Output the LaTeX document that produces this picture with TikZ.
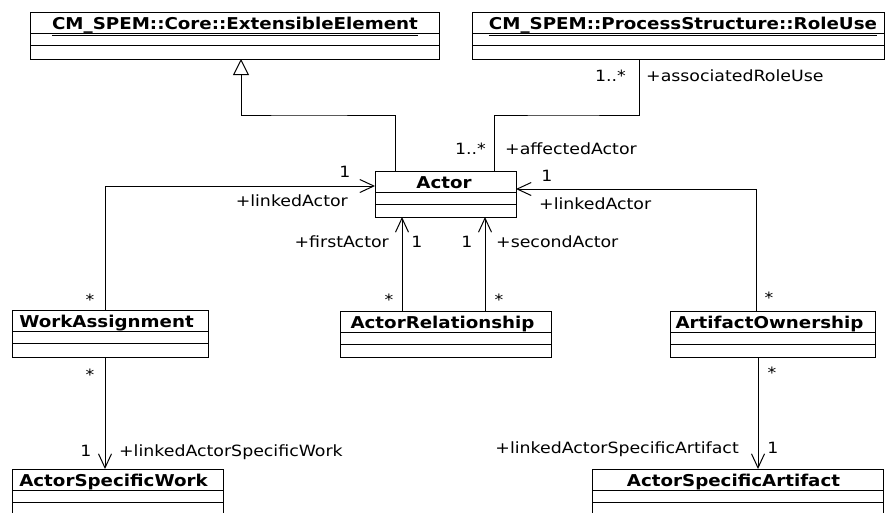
\documentclass[tikz,border=0pt]{standalone}
\usepackage{fontspec}
\setmainfont{DejaVu Sans}[FakeStretch=1.12]
\usetikzlibrary{arrows.meta,calc}
\tikzset{
  cls/.style={draw, line width=1pt, rectangle, inner sep=0pt, outer sep=0pt, anchor=north west},
  sep/.style={line width=1pt},
  ttl/.style={inner sep=0pt, anchor=base, font=\fontsize{16.3}{18}\selectfont\bfseries},
  lbl/.style={inner sep=0pt, text height=11.5pt, text depth=0pt, font=\fontsize{15.5}{18}\selectfont},
  star/.style={inner sep=0pt, font=\fontsize{15.5}{18}\selectfont},
  conn/.style={line width=1pt},
  assoc/.style={conn, -{Straight Barb[length=14pt,width=13pt,line width=1pt]}},
  gen/.style={conn, -{Triangle[open,length=16pt,width=16pt,line width=1pt]}},
}
\newcommand\umlcls[7]{% name, x1, y1, x2, y2, title x, title
  \node[cls, minimum width={#4pt-#2pt}, minimum height={#5pt-#3pt}] (#1) at (#2,#3) {};
  \draw[sep] ([yshift=-21.5pt]#1.north west) -- ([yshift=-21.5pt]#1.north east);
  \draw[sep] ([yshift=-33pt]#1.north west) -- ([yshift=-33pt]#1.north east);
  \node[ttl] (#1-t) at (#6,#3+17.5) {#7};
}
\begin{document}
\begin{tikzpicture}[x=1pt,y=-1pt]
\clip (0,0) rectangle (885,512);
\fill[white] (0,0) rectangle (885,512);

\umlcls{ext}{30}{12}{439}{59}{235}{\underline{CM\_SPEM::Core::ExtensibleElement}}
\umlcls{role}{472}{12}{884}{59}{683}{\underline{CM\_SPEM::ProcessStructure::RoleUse}}
\umlcls{actor}{375}{171}{516}{217}{444}{Actor}
\umlcls{wa}{12}{310}{208}{357}{106.5}{WorkAssignment}
\umlcls{ar}{340}{311}{551}{357}{442.5}{ActorRelationship}
\umlcls{ao}{670}{311}{875}{357}{769.5}{ArtifactOwnership}
\umlcls{asw}{12}{469}{223}{530}{113.5}{ActorSpecificWork}
\umlcls{asa}{592}{469}{883}{530}{733.5}{ActorSpecificArtifact}

% bends
\coordinate (gbend) at (300,115);
\coordinate (rbend) at (560,115);

% generalization
\draw[gen] ([xshift=20pt]actor.north west) |- (gbend) -| ([xshift=211pt]ext.south west);
% association with RoleUse
\draw[conn] ([xshift=119pt]actor.north west) |- (rbend) -| ([xshift=167pt]role.south west);
% linkedActor (WorkAssignment)
\draw[assoc] ([xshift=93pt]wa.north west) |- ([yshift=-15pt]actor.north west);
% linkedActor (ArtifactOwnership)
\draw[assoc] ([xshift=86pt]ao.north west) |- ([yshift=-18pt]actor.north east);
% firstActor / secondActor
\draw[assoc] ([xshift=62pt]ar.north west) -- ([xshift=27pt]actor.south west);
\draw[assoc] ([xshift=145pt]ar.north west) -- ([xshift=110pt]actor.south west);
% linkedActorSpecificWork
\draw[assoc] ([xshift=93pt]wa.south west) -- ([xshift=93pt]asw.north west);
% linkedActorSpecificArtifact
\draw[assoc] ([xshift=88pt]ao.south west) -- ([xshift=166pt]asa.north west);

% labels
\node[lbl, anchor=east] (m1) at (626,76) {1..*};
\node[lbl, anchor=west] (r1) at (646,76) {+associatedRoleUse};
\node[lbl, anchor=east] (m2) at (486,149) {1..*};
\node[lbl, anchor=west] (r2) at (505,149) {+affectedActor};
\node[lbl] (m3) at (345,172) {1};
\node[lbl, anchor=east] (r3) at (348,201) {+linkedActor};
\node[lbl] (m4) at (547,176) {1};
\node[lbl, anchor=west] (r4) at (539,204) {+linkedActor};
\node[lbl, anchor=east] (r5) at (389,242) {+firstActor};
\node[lbl] (m5) at (417,242) {1};
\node[lbl] (m6) at (467,242) {1};
\node[lbl, anchor=west] (r6) at (496,242) {+secondActor};
\node[star] (s1) at (90,300) {*};
\node[star] (s2) at (389,300) {*};
\node[star] (s3) at (499,300) {*};
\node[star] (s4) at (769,298) {*};
\node[star] (s5) at (90,375) {*};
\node[star] (s6) at (772,373) {*};
\node[lbl] (m7) at (86,451) {1};
\node[lbl, anchor=west] (r7) at (119,451) {+linkedActorSpecificWork};
\node[lbl, anchor=east] (r8) at (739,448) {+linkedActorSpecificArtifact};
\node[lbl] (m8) at (773,448) {1};
\end{tikzpicture}
\end{document}
